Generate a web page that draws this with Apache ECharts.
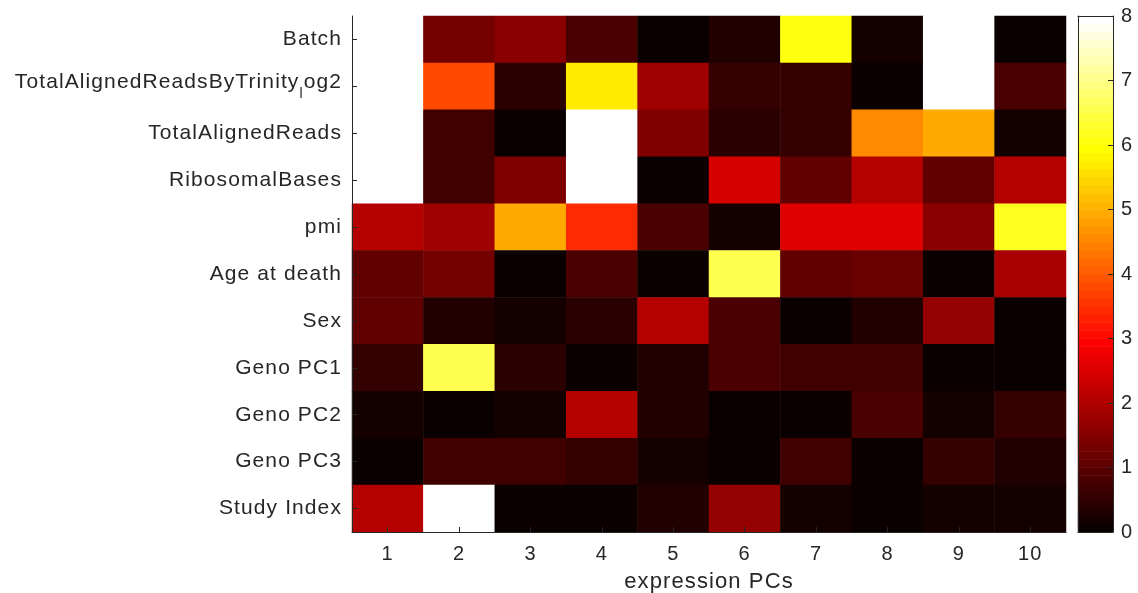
<!DOCTYPE html>
<html>
<head>
<meta charset="utf-8">
<script src="https://cdn.jsdelivr.net/npm/echarts@6/dist/echarts.min.js"></script>
<style>
html,body{margin:0;padding:0;background:#fff;}
#c{width:1138px;height:593px;}
</style>
</head>
<body>
<div id="c"></div>
<script>
// ---- data ----
const columns = ['1','2','3','4','5','6','7','8','9','10'];
const rows = ['Batch','TotalAlignedReadsByTrinity_log2','TotalAlignedReads','RibosomalBases','pmi','Age at death','Sex','Geno PC1','Geno PC2','Geno PC3','Study Index'];
const valBatch      = [8, 1.32, 1.5, 0.85, 0.08, 0.3, 6.05, 0.24, 8, 0.1];
const valTrinityLog = [8, 3.87, 0.47, 5.7, 1.8, 0.5, 0.56, 0.08, 8, 0.8];
const valAligned    = [8, 0.7, 0.1, 8, 1.46, 0.42, 0.56, 4.6, 4.94, 0.24];
const valRibosomal  = [8, 0.7, 1.4, 8, 0.1, 2.4, 1.06, 2.07, 1.06, 2.1];
const valPmi        = [2.1, 1.76, 4.97, 3.38, 0.8, 0.24, 2.5, 2.5, 1.6, 6.2];
const valAge        = [1.06, 1.34, 0.1, 0.8, 0.1, 6.6, 1.0, 1.2, 0.1, 1.9];
const valSex        = [1.06, 0.3, 0.2, 0.4, 2.07, 0.87, 0.1, 0.3, 1.65, 0.08];
const valGeno1      = [0.54, 6.5, 0.4, 0.08, 0.3, 0.75, 0.64, 0.64, 0.08, 0.08];
const valGeno2      = [0.2, 0.08, 0.2, 2.07, 0.3, 0.08, 0.08, 0.8, 0.24, 0.54];
const valGeno3      = [0.08, 0.68, 0.68, 0.56, 0.2, 0.08, 0.68, 0.08, 0.56, 0.3];
const valStudy      = [2.07, 8, 0.1, 0.1, 0.3, 1.7, 0.24, 0.08, 0.15, 0.24];
const colorbarTicks = [0,1,2,3,4,5,6,7,8];
const xTitle = 'expression PCs';

const matrix = [valBatch, valTrinityLog, valAligned, valRibosomal, valPmi, valAge, valSex, valGeno1, valGeno2, valGeno3, valStudy];

// slightly wider glyph spacing, like the original figure's text rendering
(function(){
  const LS = '1.1px';
  const P = CanvasRenderingContext2D.prototype;
  ['fillText','strokeText','measureText'].forEach(function(fn){
    const orig = P[fn];
    P[fn] = function(){ try { this.letterSpacing = LS; } catch(e) {} return orig.apply(this, arguments); };
  });
})();

// MATLAB hot(64) colormap
const N = 64;
function hot(k){
  const r = k < 24 ? (k+1)/24 : 1;
  const g = k < 24 ? 0 : (k < 48 ? (k-23)/24 : 1);
  const b = k < 48 ? 0 : (k-47)/16;
  return 'rgb(' + Math.round(r*255) + ',' + Math.round(g*255) + ',' + Math.round(b*255) + ')';
}
const cmin = 0, cmax = 8;
const step = (cmax - cmin) / N;
const pieces = [];
for (let k = 0; k < N; k++) {
  const p = { color: hot(k) };
  if (k > 0) p.gte = cmin + k*step;
  if (k < N-1) p.lt = cmin + (k+1)*step;
  pieces.push(p);
}

const heatData = [];
matrix.forEach((row, ri) => row.forEach((v, ci) => heatData.push([ci, ri, v])));

const cbLevels = [];
const cbData = [];
for (let k = 0; k < N; k++) { cbLevels.push(String(k)); cbData.push([0, k, cmin + (k+0.5)*step]); }

const txt = '#262626';
const axisCol = '#262626';
const font = 'Liberation Sans, Arial, Helvetica, sans-serif';

const chart = echarts.init(document.getElementById('c'), null, {renderer: 'canvas'});
chart.setOption({
  animation: false,
  backgroundColor: '#fff',
  grid: [
    {left: 352, top: 16, width: 714, height: 516, outerBoundsMode: 'none', containLabel: false},
    {left: 1078, top: 16, width: 35, height: 516, outerBoundsMode: 'none', containLabel: false}
  ],
  visualMap: {
    type: 'piecewise', show: false, dimension: 2, seriesIndex: [0, 1],
    pieces: pieces
  },
  xAxis: [
    {
      type: 'category', gridIndex: 0, data: columns, position: 'bottom', z: 10,
      axisLine: {show: true, lineStyle: {color: axisCol, width: 1}},
      axisTick: {show: true, inside: true, alignWithLabel: true, length: 5, lineStyle: {color: axisCol}},
      axisLabel: {color: txt, fontSize: 20, fontFamily: font, margin: 12},
      splitLine: {show: false},
      name: xTitle, nameLocation: 'middle', nameGap: 36,
      nameTextStyle: {color: txt, fontSize: 22, fontFamily: font}
    },
    {
      type: 'category', gridIndex: 1, data: ['cb'], position: 'bottom', z: 10,
      axisLine: {show: true, lineStyle: {color: axisCol}},
      axisTick: {show: false}, axisLabel: {show: false}
    },
    {
      type: 'category', gridIndex: 1, data: ['cb'], position: 'top', z: 10,
      axisLine: {show: true, lineStyle: {color: axisCol}},
      axisTick: {show: false}, axisLabel: {show: false}
    }
  ],
  yAxis: [
    {
      type: 'category', gridIndex: 0, data: rows, inverse: true, position: 'left', z: 10,
      axisLine: {show: true, lineStyle: {color: axisCol, width: 1}},
      axisTick: {show: true, inside: true, alignWithLabel: true, length: 5, lineStyle: {color: axisCol}},
      axisLabel: {
        color: txt, fontSize: 21, fontFamily: font, margin: 10,
        formatter: function (v) {
          const i = v.indexOf('_');
          if (i < 0) return v;
          return '{m|' + v.slice(0, i) + '}{sub|' + v.charAt(i+1) + '}{m|' + v.slice(i+2) + '}';
        },
        rich: {
          m: {fontSize: 21, fontFamily: font, color: txt, verticalAlign: 'top'},
          sub: {fontSize: 14, fontFamily: font, color: txt, padding: [16, 0, 0, 0]}
        }
      },
      splitLine: {show: false}
    },
    {
      type: 'category', gridIndex: 1, data: cbLevels, position: 'left', z: 10,
      axisLine: {show: true, lineStyle: {color: axisCol}},
      axisTick: {show: false}, axisLabel: {show: false}
    },
    {
      type: 'value', gridIndex: 1, min: cmin, max: cmax, interval: 1, position: 'right', z: 10,
      axisLine: {show: true, lineStyle: {color: axisCol}},
      axisTick: {show: true, inside: true, length: 5, lineStyle: {color: axisCol}},
      axisLabel: {color: txt, fontSize: 20, fontFamily: font, margin: 8,
        formatter: function (v) { return colorbarTicks.indexOf(v) >= 0 ? String(v) : ''; }},
      splitLine: {show: false}
    }
  ],
  series: [
    {
      type: 'heatmap', xAxisIndex: 0, yAxisIndex: 0, data: heatData,
      itemStyle: {borderWidth: 0}, emphasis: {disabled: true}, progressive: 0
    },
    {
      type: 'heatmap', xAxisIndex: 1, yAxisIndex: 1, data: cbData,
      itemStyle: {borderWidth: 0}, emphasis: {disabled: true}, progressive: 0
    }
  ]
});
</script>
</body>
</html>
